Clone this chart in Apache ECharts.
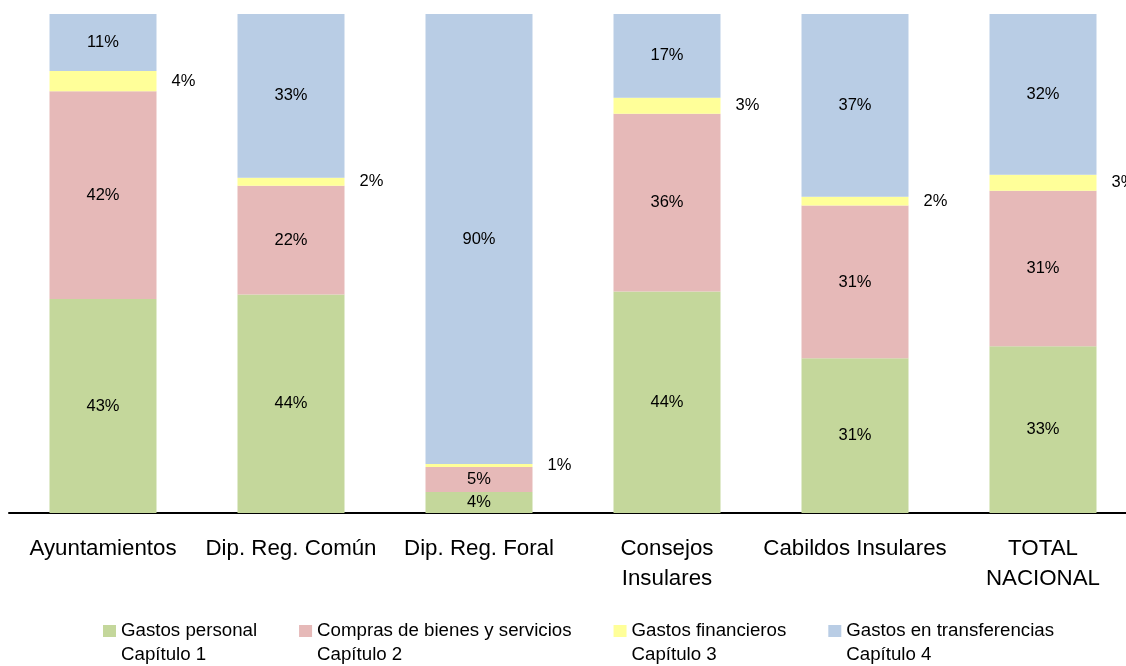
<!DOCTYPE html>
<html>
<head>
<meta charset="utf-8">
<script src="https://cdn.jsdelivr.net/npm/echarts@6/dist/echarts.min.js"></script>
<style>
  html, body { margin: 0; padding: 0; background: #fff; overflow: hidden; }
  #chart { width: 1137px; height: 666px; }
</style>
</head>
<body>
<div id="chart"></div>
<script>
var categories = ['Ayuntamientos', 'Dip. Reg. Común', 'Dip. Reg. Foral', 'Consejos\nInsulares', 'Cabildos Insulares', 'TOTAL\nNACIONAL']
var personal = [42.9, 43.8, 4.2, 44.4, 31.0, 33.4]
var compras = [41.6, 21.8, 5.0, 35.6, 30.6, 31.2]
var financieros = [4.1, 1.6, 0.6, 3.2, 1.8, 3.2]
var transferencias = [11.4, 32.8, 90.2, 16.8, 36.6, 32.2]
var seriesNames = [
  'Gastos personal\nCapítulo 1',
  'Compras de bienes y servicios\nCapítulo 2',
  'Gastos financieros\nCapítulo 3',
  'Gastos en transferencias\nCapítulo 4'
]
var colors = ['#C4D79B', '#E6B9B8', '#FFFF99', '#B9CDE5']

var FONT = 'Liberation Sans'
var chart = echarts.init(document.getElementById('chart'))

function pct(p) { return Math.round(p.value) + '%' }

function makeSeries(name, data, color, inside) {
  return {
    name: name,
    type: 'bar',
    stack: 'total',
    barWidth: 107,
    data: data,
    itemStyle: { color: color },
    label: {
      show: true,
      position: inside ? 'inside' : 'right',
      distance: 15,
      formatter: pct,
      color: '#000',
      fontFamily: FONT,
      fontSize: 16.5
    }
  }
}

var option = {
  animation: false,
  color: colors,
  grid: { left: 9, right: 0, top: 14, bottom: 153, containLabel: false },
  legend: {
    left: 98,
    top: 614,
    itemGap: 42,
    itemWidth: 13,
    itemHeight: 36,
    icon: 'path://M0,0L13,0L13,12L0,12Z M0,36L0.01,36Z',
    textStyle: { fontFamily: FONT, fontSize: 18.7, color: '#000', lineHeight: 24 },
    data: seriesNames
  },
  xAxis: {
    type: 'category',
    data: categories,
    axisLine: { lineStyle: { color: '#000', width: 2 } },
    axisTick: { show: false },
    axisLabel: { color: '#000', fontFamily: FONT, fontSize: 22.3, lineHeight: 30, margin: 21, interval: 0 }
  },
  yAxis: {
    type: 'value',
    min: 0,
    max: 100,
    show: false
  },
  series: [
    makeSeries(seriesNames[0], personal, colors[0], true),
    makeSeries(seriesNames[1], compras, colors[1], true),
    makeSeries(seriesNames[2], financieros, colors[2], false),
    makeSeries(seriesNames[3], transferencias, colors[3], true)
  ]
}
chart.setOption(option)
</script>
</body>
</html>
